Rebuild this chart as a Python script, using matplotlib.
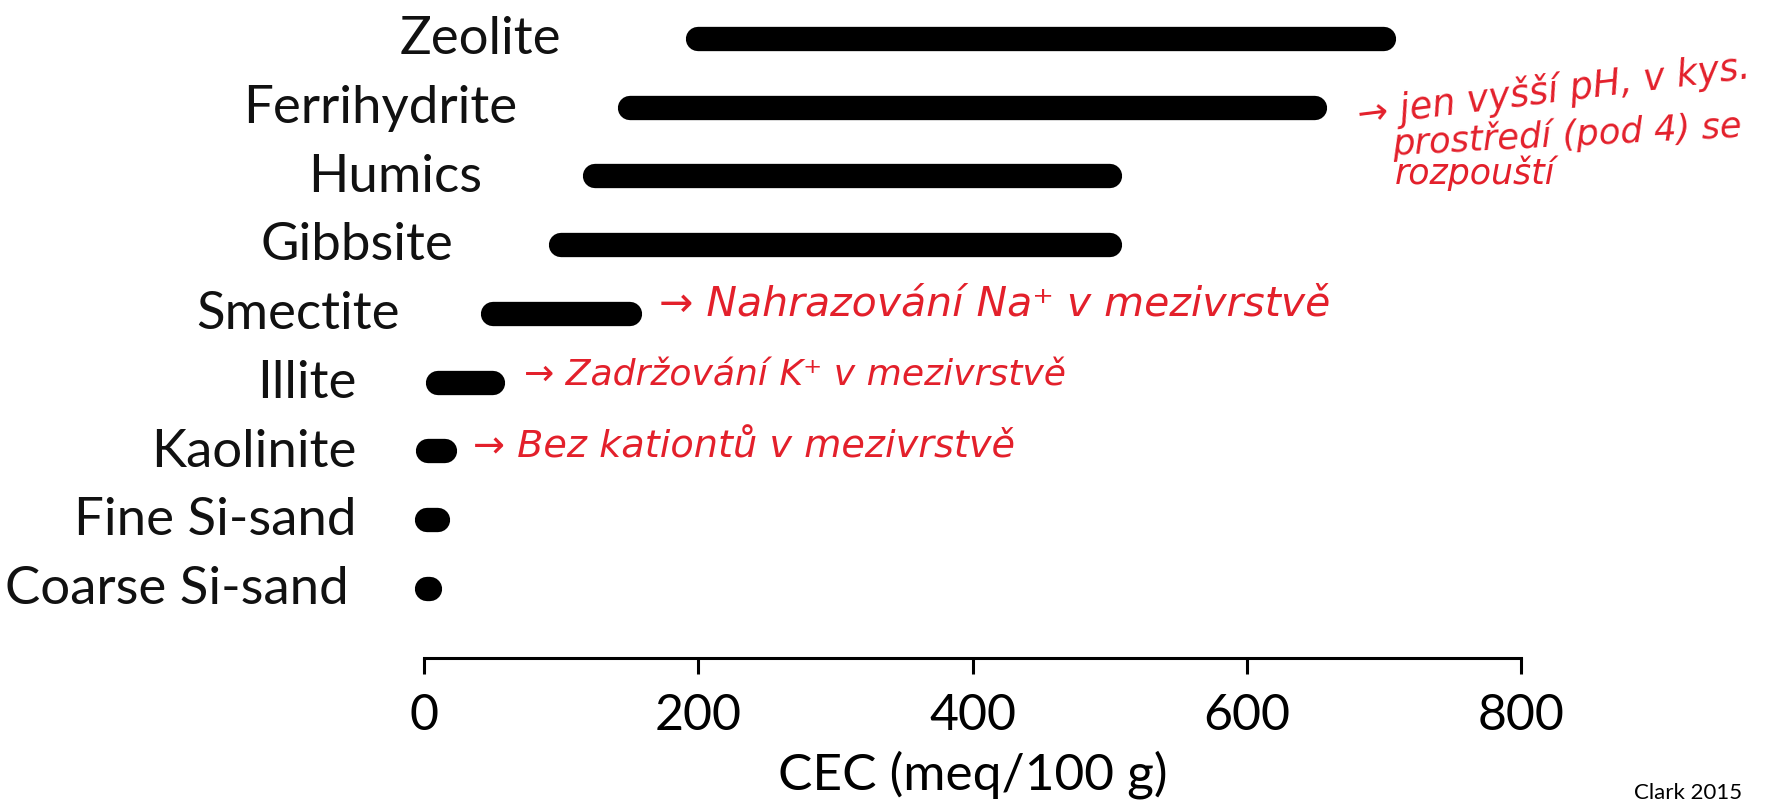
import matplotlib
matplotlib.use('Agg')
import matplotlib.pyplot as plt

# CEC ranges (meq/100 g)
minerals = ['Coarse Si-sand', 'Fine Si-sand', 'Kaolinite', 'Illite', 'Smectite',
            'Gibbsite', 'Humics', 'Ferrihydrite', 'Zeolite']
cec_low = [2, 2, 3, 10, 50, 100, 125, 150, 200]
cec_high = [4, 10, 15, 50, 150, 500, 500, 650, 700]
xticks = [0, 200, 400, 600, 800]

# where each category label ends (right edge, in CEC units)
label_x = [-55, -49, -49, -49, -18, 21, 42, 68, 100]

red = '#e3202b'
fonts = ['Lato', 'DejaVu Sans']
plt.rcParams['font.family'] = fonts
hand = dict(color=red, family='DejaVu Sans', fontstyle='oblique',
            ha='left', va='center', clip_on=False)

fig = plt.figure(figsize=(17.67, 8.02), dpi=100)
ax = fig.add_axes([0.24, 0.18, 0.6208, 0.8144])

for i in range(len(minerals)):
    ax.plot([cec_low[i], cec_high[i]], [i, i], color='black', lw=17.5,
            solid_capstyle='round', clip_on=False)
    ax.text(label_x[i], i - 0.01, minerals[i], ha='right', va='center',
            fontsize=38, color='#111111')

ax.set_xlim(0, 800)
ax.set_ylim(-1, 8.5)
ax.set_yticks([])
for s in ['left', 'top', 'right']:
    ax.spines[s].set_visible(False)
ax.spines['bottom'].set_linewidth(2.2)
ax.spines['bottom'].set_bounds(0, 800)
ax.set_xticks(xticks)
ax.tick_params(axis='x', direction='out', length=11.5, width=2.2, pad=14,
               labelsize=36)
ax.set_xlabel('CEC (meq/100 g)', fontsize=37, labelpad=8)

# handwritten notes
ax.text(171, 4.15, '→ Nahrazování Na⁺ v mezivrstvě', fontsize=29.5, **hand)
ax.text(73, 3.1, '→ Zadržování K⁺ v mezivrstvě', fontsize=26, **hand)
ax.text(36, 2.05, '→ Bez kationtů v mezivrstvě', fontsize=27.5, **hand)
ax.text(679, 7.24, '→ jen vyšší pH, v kys.', fontsize=26.5, rotation=7, **hand)
ax.text(705, 6.6, 'prostředí (pod 4) se', fontsize=25.5, rotation=3, **hand)
ax.text(708, 6.04, 'rozpouští', fontsize=25, **hand)

fig.text(0.986, 0.004, 'Clark 2015', ha='right', va='baseline', fontsize=16)

fig.savefig('out.png', dpi=100)
